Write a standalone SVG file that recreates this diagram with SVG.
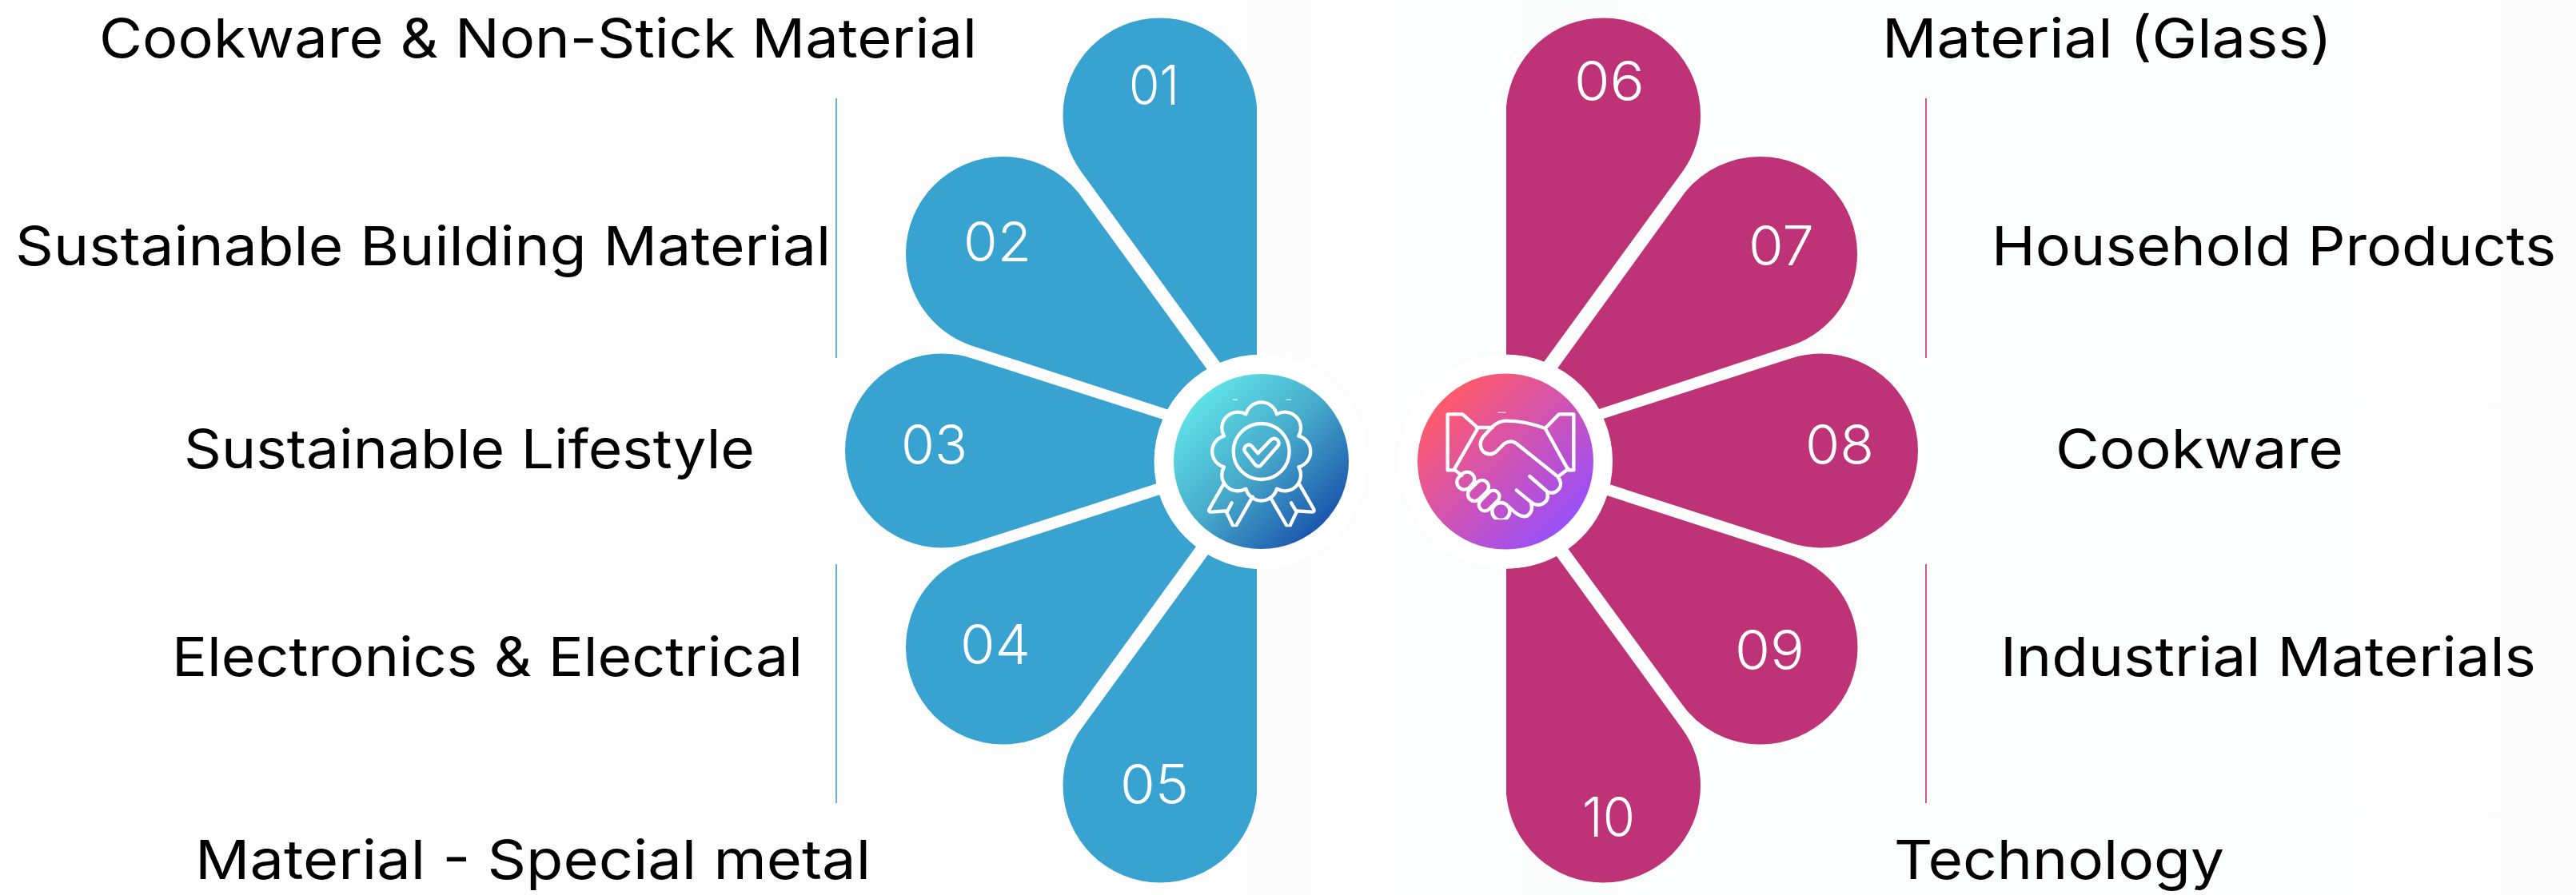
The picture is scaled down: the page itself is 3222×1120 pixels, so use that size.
<svg xmlns="http://www.w3.org/2000/svg" width="3222" height="1120" viewBox="0 0 3222 1120">
<style>
.blue{fill:#38a3d0}
.pink{fill:#be3278}
.num{font-family:"Inter","Liberation Sans",sans-serif;font-weight:350;font-size:69px;fill:#fff}
.lab{font-family:"Inter","Liberation Sans",sans-serif;font-weight:400;font-size:68px;fill:#000}
.ring{fill:#fff}
.ic{fill:none;stroke:#fff;stroke-width:13;stroke-linecap:round;stroke-linejoin:round}
.dash{fill:#fff}
</style>
<defs>
<linearGradient id="bg" x1="0" y1="0" x2="1" y2="0"><stop offset="0" stop-color="#fefefe"/><stop offset=".5" stop-color="#fcfcfc"/><stop offset=".6" stop-color="#fbfdfc"/><stop offset="1" stop-color="#fcfcfd"/></linearGradient>
<linearGradient id="gb" x1=".15" y1=".15" x2=".85" y2=".85"><stop offset="0" stop-color="#5fe0e6"/><stop offset=".5" stop-color="#46a8ca"/><stop offset="1" stop-color="#1c58ad"/></linearGradient>
<linearGradient id="gp" x1=".15" y1=".15" x2=".85" y2=".85"><stop offset="0" stop-color="#ff5a6b"/><stop offset=".5" stop-color="#d053b4"/><stop offset="1" stop-color="#9a50f8"/></linearGradient>
<clipPath id="cb"><rect x="0" y="0" width="930" height="688"/></clipPath>
<clipPath id="cp"><rect x="0" y="0" width="930" height="661"/></clipPath>
</defs>
<rect id="background" width="3222" height="1120" fill="url(#bg)"/>
<g id="connectors" fill="none" stroke-width="1.6">
<path stroke="#38a3d0" d="M1046 123V448M1046 706V1005"/>
<path stroke="#be3278" d="M2409 123V448M2409 706V1005"/>
</g>
<g id="node-01"><path class="blue" d="M1572 445L1572 133A121.5 121.5 0 0 0 1451 22.5A121.5 121.5 0 0 0 1329.5 144A121.5 121.5 0 0 0 1351.2 213.2L1526 454A133.5 133.5 0 0 1 1572 445Z"/><text class="num" x="1412" y="131" textLength="63" lengthAdjust="spacingAndGlyphs">01</text><text class="lab" x="124" y="72" textLength="1098" lengthAdjust="spacingAndGlyphs">Cookware &amp; Non-Stick Material</text></g>
<g id="node-02"><path class="blue" d="M1349.3 241.6L1510 462.5A133.5 133.5 0 0 0 1460.6 512.5L1213.5 431.9A121.5 121.5 0 0 1 1133 317.5A121.5 121.5 0 0 1 1254.5 196A121.5 121.5 0 0 1 1349.3 241.6Z"/><text class="num" x="1205" y="327" textLength="85" lengthAdjust="spacingAndGlyphs">02</text><text class="lab" x="19" y="332" textLength="1020" lengthAdjust="spacingAndGlyphs">Sustainable Building Material</text></g>
<g id="node-03"><path class="blue" d="M1217.5 448.9L1455 525A133.5 133.5 0 0 0 1447 605L1217.5 679.1A121.5 121.5 0 0 1 1178.5 685.5A121.5 121.5 0 0 1 1057 564A121.5 121.5 0 0 1 1178.5 442.5A121.5 121.5 0 0 1 1217.5 448.9Z"/><text class="num" x="1127" y="581" textLength="83" lengthAdjust="spacingAndGlyphs">03</text><text class="lab" x="230" y="586" textLength="714" lengthAdjust="spacingAndGlyphs">Sustainable Lifestyle</text></g>
<g id="node-04"><path class="blue" d="M1221.1 693.2L1451 619A133.5 133.5 0 0 0 1496 684L1351.8 882.8A121.5 121.5 0 0 1 1254.5 931.5A121.5 121.5 0 0 1 1133 810A121.5 121.5 0 0 1 1221.1 693.2Z"/><text class="num" x="1201" y="831" textLength="88" lengthAdjust="spacingAndGlyphs">04</text><text class="lab" x="215" y="846" textLength="789" lengthAdjust="spacingAndGlyphs">Electronics &amp; Electrical</text></g>
<g id="node-05"><path class="blue" d="M1572 712L1572 994A121.5 121.5 0 0 1 1451 1104.5A121.5 121.5 0 0 1 1329.5 983A121.5 121.5 0 0 1 1354.2 909.6L1511 694A133.5 133.5 0 0 0 1572 712Z"/><text class="num" x="1401" y="1006" textLength="86" lengthAdjust="spacingAndGlyphs">05</text><text class="lab" x="244" y="1100" textLength="845" lengthAdjust="spacingAndGlyphs">Material - Special metal</text></g>
<g id="node-06"><path class="pink" d="M1884 444L1884 133A121.5 121.5 0 0 1 2005.5 22.5A121.5 121.5 0 0 1 2127 144A121.5 121.5 0 0 1 2105 214L1931 453A134 134 0 0 0 1884 444Z"/><text class="num" x="1969" y="126" textLength="88" lengthAdjust="spacingAndGlyphs">06</text><text class="lab" x="2354" y="72" textLength="563" lengthAdjust="spacingAndGlyphs">Material (Glass)</text></g>
<g id="node-07"><path class="pink" d="M2108.1 239.9L1948 461A134 134 0 0 1 2000 512L2241.3 432.3A121.5 121.5 0 0 0 2323 317.5A121.5 121.5 0 0 0 2201.5 196A121.5 121.5 0 0 0 2108.1 239.9Z"/><text class="num" x="2187" y="332" textLength="82" lengthAdjust="spacingAndGlyphs">07</text><text class="lab" x="2491" y="332" textLength="706" lengthAdjust="spacingAndGlyphs">Household Products</text></g>
<g id="node-08"><path class="pink" d="M2237.6 449.2L2005.5 524A134 134 0 0 1 2013 606L2241.6 680.1A121.5 121.5 0 0 0 2277.5 685.5A121.5 121.5 0 0 0 2399 564A121.5 121.5 0 0 0 2277.5 442.5A121.5 121.5 0 0 0 2237.6 449.2Z"/><text class="num" x="2258" y="581" textLength="86" lengthAdjust="spacingAndGlyphs">08</text><text class="lab" x="2571" y="586" textLength="360" lengthAdjust="spacingAndGlyphs">Cookware</text></g>
<g id="node-09"><path class="pink" d="M2237.6 694L2010 620A134 134 0 0 1 1961.6 687L2101.7 878.5A121.5 121.5 0 0 0 2202 931.5A121.5 121.5 0 0 0 2323.5 810A121.5 121.5 0 0 0 2237.6 694Z"/><text class="num" x="2170" y="838" textLength="87" lengthAdjust="spacingAndGlyphs">09</text><text class="lab" x="2502" y="846" textLength="670" lengthAdjust="spacingAndGlyphs">Industrial Materials</text></g>
<g id="node-10"><path class="pink" d="M1947 696A134 134 0 0 1 1884 711.5L1884 994A121.5 121.5 0 0 0 2005.5 1104.5A121.5 121.5 0 0 0 2127 983A121.5 121.5 0 0 0 2104.4 912.4L1947 696Z"/><text class="num" x="1979" y="1047" textLength="66" lengthAdjust="spacingAndGlyphs">10</text><text class="lab" x="2369" y="1100" textLength="413" lengthAdjust="spacingAndGlyphs">Technology</text></g>
<g id="center-quality">
<circle class="ring" cx="1577.5" cy="577.5" r="134"/>
<circle cx="1577.5" cy="577.5" r="109.5" fill="url(#gb)"/>
<g transform="translate(1420 430) scale(.33333)" clip-path="url(#cb)">
<path class="ic" d="M531 265A60 60 0 0 0 415 265A60 60 0 0 0 333 347A60 60 0 0 0 333 463A60 60 0 0 0 415 545A60 60 0 0 0 531 545A60 60 0 0 0 613 463A60 60 0 0 0 613 347A60 60 0 0 0 531 265Z"/>
<circle class="ic" cx="473" cy="405" r="105"/>
<path class="ic" d="M413 408Q404 396 415 384Q428 374 438 386L460 412L510 360Q520 352 532 360Q544 372 535 384L473 455Q462 466 450 455Z"/>
<path class="ic" d="M330 530L277 622Q274 632 285 632L340 628L372 695L440 575M362 598L345 630M617 530L670 622Q673 632 662 632L607 628L575 695L507 578M585 598L603 628"/>
<rect class="dash" x="365" y="209" width="20" height="3"/><rect class="dash" x="565" y="209" width="20" height="3"/>
</g>
</g>
<g id="center-partnership">
<circle class="ring" cx="1883" cy="577.5" r="134"/>
<circle cx="1883" cy="577.5" r="110" fill="url(#gp)"/>
<g transform="translate(1750 430) scale(.33333)" clip-path="url(#cp)">
<path class="ic" d="M295 316L238 265L182 265L182 475L205 475L295 318M548 318L600 265L655 265L655 475L635 475L548 318M290 315L350 315"/>
<path class="ic" d="M548 318Q470 290 400 290Q375 290 350 312L315 350Q295 380 315 405Q340 425 365 405L395 375Q420 360 440 375L590 495M635 470L595 500Q615 525 600 545Q580 570 555 555L490 498M555 555Q565 590 535 603Q510 610 495 595L440 550M495 600Q505 630 480 647Q455 655 425 625L410 612M210 475L235 495"/>
<rect class="ic" x="215" y="487" width="70" height="55" rx="27" transform="rotate(-45 250 515)"/>
<rect class="ic" x="252" y="527" width="90" height="50" rx="25" transform="rotate(-45 297 552)"/>
<rect class="ic" x="293" y="567" width="90" height="45" rx="22" transform="rotate(-45 338 590)"/>
<circle class="ic" cx="382" cy="630" r="33"/>
<rect class="dash" x="370" y="257" width="30" height="3"/>
</g>
</g>
</svg>
